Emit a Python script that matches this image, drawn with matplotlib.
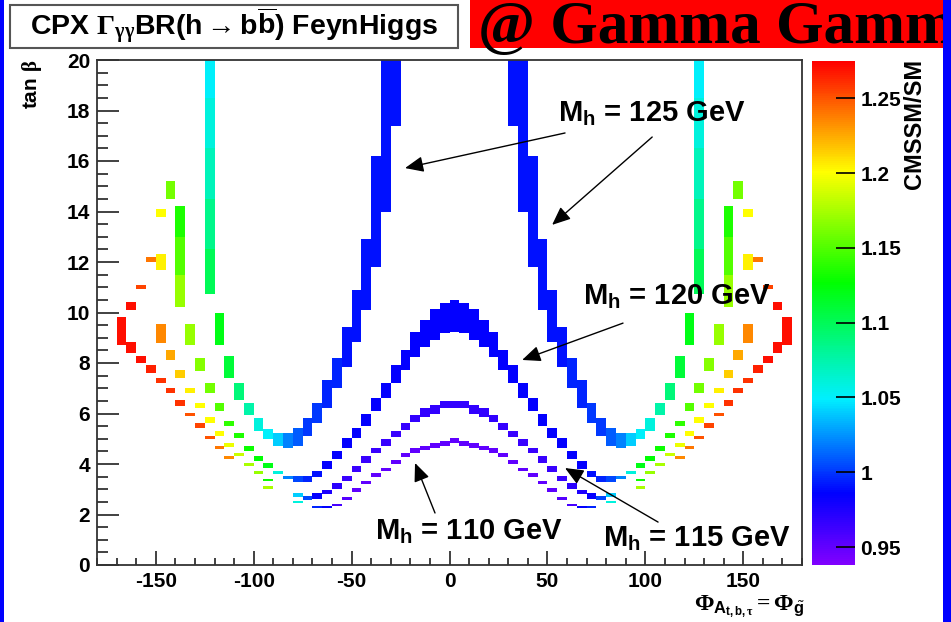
import numpy as np
import matplotlib
matplotlib.use('Agg')
import matplotlib.pyplot as plt
import matplotlib.ticker as ticker
from matplotlib.colors import LinearSegmentedColormap, Normalize
from matplotlib.cm import ScalarMappable
from matplotlib.patches import Rectangle

plt.rcParams['font.family'] = 'Liberation Sans'
plt.rcParams['font.weight'] = 'bold'
plt.rcParams['axes.unicode_minus'] = False
plt.rcParams['mathtext.fontset'] = 'custom'
plt.rcParams['mathtext.rm'] = 'Liberation Serif'
plt.rcParams['mathtext.it'] = 'Liberation Serif:italic'
plt.rcParams['mathtext.bf'] = 'Liberation Serif:bold'
plt.rcParams['mathtext.sf'] = 'Liberation Sans:bold'

# cells of the scan: left edge of the phase bin (5 deg wide), tan(beta) range, ratio CMSSM/SM
# M_h = 125 GeV band (steep inner branch, outer branch and the long bar)
phi_125_l = [-30, -35, -40, -45, -50, -55, -60, -65, -70, -75, -80, -85,
             -90, -95, -100, -105, -110, -115, -120, -125, -125, -125, -125, -125]
phi_125_r = [30, 35, 40, 45, 50, 55, 60, 65, 70, 75, 80, 85,
             90, 95, 100, 105, 110, 115, 120, 125, 125, 125, 125, 125]
lo_125 = [17.4, 14.0, 11.8, 10.1, 8.84, 7.83, 7.0, 6.2, 5.61, 5.11, 4.73, 4.62,
          4.73, 5.0, 5.32, 5.93, 6.53, 7.42, 8.71, 10.72, 12.5, 14.5, 16.5, 18.5]
hi_125 = [20.0, 20.0, 16.2, 12.9, 10.89, 9.41, 8.18, 7.33, 6.4, 5.83, 5.41, 5.24,
          5.21, 5.4, 5.82, 6.4, 7.22, 8.29, 10.0, 12.5, 14.5, 16.5, 18.5, 20.0]
r_125 = [0.99, 0.99, 0.99, 0.99, 0.99, 0.99, 0.995, 0.995, 1.0, 1.0, 1.01, 1.02,
         1.04, 1.05, 1.06, 1.075, 1.09, 1.11, 1.12, 1.1, 1.085, 1.07, 1.06, 1.05]

# M_h = 120 GeV band
phi_120_l = [0, -5, -10, -15, -20, -25, -30, -35, -40, -45, -50, -55, -60, -65, -70, -75,
             -80, -85, -90, -95, -100, -105, -110, -115, -120, -125, -130, -135,
             -140, -140, -140, -145]
phi_120_r = [0, 5, 10, 15, 20, 25, 30, 35, 40, 45, 50, 55, 60, 65, 70, 75,
             80, 85, 90, 95, 100, 105, 110, 115, 120, 125, 130, 135,
             140, 140, 140, 145]
lo_120 = [9.24, 9.17, 8.91, 8.65, 8.22, 7.72, 7.2, 6.6, 6.11, 5.5, 5.02, 4.62, 4.2, 3.8, 3.5, 3.3,
          3.3, 3.4, 3.61, 3.83, 4.12, 4.51, 5.02, 5.5, 6.11, 6.8, 7.7, 8.71,
          10.2, 11.5, 13.0, 14.5]
hi_120 = [10.5, 10.39, 10.13, 9.7, 9.21, 8.51, 7.92, 7.22, 6.6, 6.0, 5.41, 5.02, 4.51, 4.12, 3.72, 3.52,
          3.52, 3.52, 3.72, 4.03, 4.32, 4.73, 5.23, 5.72, 6.4, 7.22, 8.2, 9.53,
          11.5, 13.0, 14.2, 15.2]
r_120 = [0.985, 0.985, 0.985, 0.985, 0.985, 0.985, 0.985, 0.985, 0.985, 0.985, 0.985, 0.985, 0.985, 0.985, 0.99, 0.995,
         1.005, 1.02, 1.06, 1.12, 1.125, 1.13, 1.135, 1.14, 1.15, 1.16, 1.165, 1.17,
         1.17, 1.15, 1.135, 1.16]

# M_h = 115 GeV band
phi_115_l = [0, -5, -10, -15, -20, -25, -30, -35, -40, -45, -50, -55, -60, -65, -70, -75, -80,
             -95, -100, -105, -110, -115, -120, -125, -130, -135, -140, -145, -150, -150, -150]
phi_115_r = [0, 5, 10, 15, 20, 25, 30, 35, 40, 45, 50, 55, 60, 65, 70, 75, 80,
             95, 100, 105, 110, 115, 120, 125, 130, 135, 140, 145, 150, 150, 150]
lo_115 = [6.2, 6.2, 6.0, 5.87, 5.68, 5.35, 5.06, 4.71, 4.42, 4.05, 3.7, 3.34, 3.0, 2.81, 2.6, 2.57, 2.71,
          3.31, 3.62, 3.92, 4.32, 4.69, 5.11, 5.61, 6.2, 6.8, 7.42, 8.12, 8.81, 11.7, 13.8]
hi_115 = [6.51, 6.51, 6.34, 6.2, 5.94, 5.61, 5.31, 5.0, 4.62, 4.32, 3.92, 3.52, 3.26, 2.97, 2.84, 2.73, 2.84,
          3.42, 3.72, 4.03, 4.42, 4.82, 5.31, 5.85, 6.4, 7.02, 7.72, 8.51, 9.53, 12.3, 14.1]
r_115 = [0.968, 0.968, 0.968, 0.968, 0.967, 0.966, 0.965, 0.965, 0.965, 0.965, 0.965, 0.965, 0.97, 0.975, 0.985, 1.005, 1.04,
         1.13, 1.17, 1.175, 1.185, 1.195, 1.2, 1.2, 1.2, 1.205, 1.215, 1.225, 1.235, 1.205, 1.2]

# M_h = 110 GeV band
phi_110_l = [0, -5, -10, -15, -20, -25, -30, -35, -40, -45, -50, -55, -60, -65, -70, -80, -95,
             -115, -120, -125, -130, -135, -140, -145, -150, -155, -160, -165, -170, -165, -160, -155]
phi_110_r = [0, 5, 10, 15, 20, 25, 30, 35, 40, 45, 50, 55, 60, 65, 70, 80, 95,
             115, 120, 125, 130, 135, 140, 145, 150, 155, 160, 165, 170, 165, 160, 155]
lo_110 = [4.82, 4.73, 4.62, 4.56, 4.45, 4.26, 4.0, 3.72, 3.5, 3.21, 2.9, 2.57, 2.32, 2.24, 2.24, 2.44, 3.01,
          4.21, 4.59, 5.0, 5.41, 5.9, 6.3, 6.8, 7.22, 7.62, 8.01, 8.41, 8.71, 10.1, 10.92, 12.0]
hi_110 = [5.02, 4.92, 4.82, 4.73, 4.62, 4.45, 4.16, 3.85, 3.63, 3.33, 3.04, 2.71, 2.43, 2.35, 2.35, 2.53, 3.12,
          4.32, 4.73, 5.12, 5.62, 6.02, 6.53, 7.02, 7.42, 7.91, 8.29, 8.82, 9.81, 10.4, 11.1, 12.2]
r_110 = [0.95, 0.95, 0.95, 0.95, 0.95, 0.95, 0.95, 0.95, 0.95, 0.95, 0.952, 0.955, 0.96, 0.985, 0.995, 1.06, 1.175,
         1.235, 1.24, 1.25, 1.255, 1.25, 1.26, 1.26, 1.26, 1.265, 1.27, 1.27, 1.27, 1.27, 1.255, 1.24]

cbar_ticks = [0.95, 1.0, 1.05, 1.1, 1.15, 1.2, 1.25]
cbar_labels = ['0.95', '1', '1.05', '1.1', '1.15', '1.2', '1.25']

# rainbow palette like ROOT's default
cmap = LinearSegmentedColormap.from_list('root_rainbow', [
    (0.0, '#8000ff'), (0.14, '#0000ff'), (0.33, '#00f0ff'),
    (0.56, '#00ff00'), (0.78, '#ffff00'), (1.0, '#ff0000')])
norm = Normalize(vmin=0.938, vmax=1.275)

W, H = 951, 622
fig = plt.figure(figsize=(W / 100, H / 100), dpi=100)
ax = fig.add_axes([97 / W, 57 / H, 705 / W, 505 / H])


def draw_cells(phi, lo, hi, ratio):
    heights = np.array(hi) - np.array(lo)
    ax.bar(phi, heights, width=5, bottom=lo, align='edge',
           color=cmap(norm(np.array(ratio))), linewidth=0)


for phis, lo, hi, r in [(phi_125_l, lo_125, hi_125, r_125), (phi_125_r, lo_125, hi_125, r_125),
                        (phi_120_l, lo_120, hi_120, r_120), (phi_120_r, lo_120, hi_120, r_120),
                        (phi_115_l, lo_115, hi_115, r_115), (phi_115_r, lo_115, hi_115, r_115),
                        (phi_110_l, lo_110, hi_110, r_110), (phi_110_r, lo_110, hi_110, r_110)]:
    draw_cells(phis, lo, hi, r)

ax.set_xlim(-180, 180)
ax.set_ylim(0, 20)
ax.xaxis.set_major_locator(ticker.MultipleLocator(50))
ax.xaxis.set_minor_locator(ticker.MultipleLocator(10))
ax.yaxis.set_major_locator(ticker.MultipleLocator(2))
ax.yaxis.set_minor_locator(ticker.MultipleLocator(0.5))
ax.tick_params(axis='both', which='both', direction='in', top=False, right=False, color='#333333')
ax.tick_params(axis='y', which='major', length=16, width=1.3, labelsize=15, pad=5)
ax.tick_params(axis='y', which='minor', length=8, width=1.3)
ax.tick_params(axis='x', which='major', length=10, width=1.3, labelsize=15, pad=5)
ax.tick_params(axis='x', which='minor', length=5, width=1.3)
for s in ax.spines.values():
    s.set_color('#333333')
    s.set_linewidth(1.3)

# labels on the cells
arrow = dict(arrowstyle='-|>,head_length=0.7,head_width=0.3', color='black', lw=1.0,
             mutation_scale=16, shrinkA=0, shrinkB=0)
ax.annotate('', xy=(-22.7, 15.72), xytext=(59.0, 17.11), arrowprops=arrow)
ax.annotate('', xy=(52.4, 13.47), xytext=(103.5, 16.95), arrowprops=arrow)
ax.annotate('', xy=(37.1, 8.12), xytext=(88.6, 9.58), arrowprops=arrow)
ax.annotate('', xy=(-17.6, 4.04), xytext=(-7.4, 2.06), arrowprops=arrow)
ax.annotate('', xy=(59.0, 3.84), xytext=(106.5, 1.70), arrowprops=arrow)

label_kw = dict(fontsize=21, fontweight='bold', va='baseline', ha='left')
ax.text(55.4, 17.55, r'M$_{\mathsf{h}}$ = 125 GeV', **label_kw)
ax.text(68.2, 10.3, r'M$_{\mathsf{h}}$ = 120 GeV', **label_kw)
ax.text(-38.0, 0.99, r'M$_{\mathsf{h}}$ = 110 GeV', **label_kw)
ax.text(78.4, 0.71, r'M$_{\mathsf{h}}$ = 115 GeV', **label_kw)

# colour scale
cax = fig.add_axes([812 / W, 57 / H, 43 / W, 504 / H])
cb = fig.colorbar(ScalarMappable(norm=norm, cmap=cmap), cax=cax)
cb.outline.set_visible(False)
cb.set_ticks(cbar_ticks)
cb.set_ticklabels(cbar_labels)
cax.tick_params(direction='in', length=14, width=1.2, labelsize=15, pad=4, color='black')
cax.minorticks_off()
fig.text(914 / W, 1 - 59 / H, 'CMSSM/SM', rotation=90, ha='center', va='top', fontsize=17)

# axis titles
fig.text(32 / W, 1 - 60 / H, r'tan $\mathrm{\beta}$', rotation=90, ha='center', va='top', fontsize=15)
fig.text(805 / W, 1 - 607 / H, r'$\Phi_{\mathsf{A}_{\mathsf{t,b,}\mathrm{\tau}}} = \Phi_{\tilde{\mathsf{g}}}$',
         ha='right', va='center', fontsize=17)

# header boxes
fig.add_artist(Rectangle((10 / W, 1 - 48 / H), 448 / W, 43 / H, transform=fig.transFigure,
                         facecolor='white', edgecolor='#555555', linewidth=1.5))
fig.text(234 / W, 1 - 26 / H,
         r'CPX $\mathrm{\Gamma}_{\mathrm{\gamma\gamma}}$BR(h$\rightarrow$b$\overline{\mathsf{b}}$) FeynHiggs',
         ha='center', va='center', fontsize=20.5)
fig.add_artist(Rectangle((470 / W, 1 - 48 / H), 478 / W, 48 / H, transform=fig.transFigure,
                         facecolor='#ff0000', edgecolor='none'))
fig.text(478 / W, 1 - 43 / H, '@ Gamma Gamma', family='Liberation Serif', fontweight='bold',
         fontsize=44, va='baseline', ha='left')

# blue frame at the sides
fig.add_artist(Rectangle((0, 0), 4 / W, 1, transform=fig.transFigure, facecolor='#0000ff',
                         edgecolor='none', zorder=10))
fig.add_artist(Rectangle((943 / W, 0), 8 / W, 1, transform=fig.transFigure, facecolor='#0000ff',
                         edgecolor='none', zorder=10))

fig.savefig('out.png', dpi=100, facecolor='white')
